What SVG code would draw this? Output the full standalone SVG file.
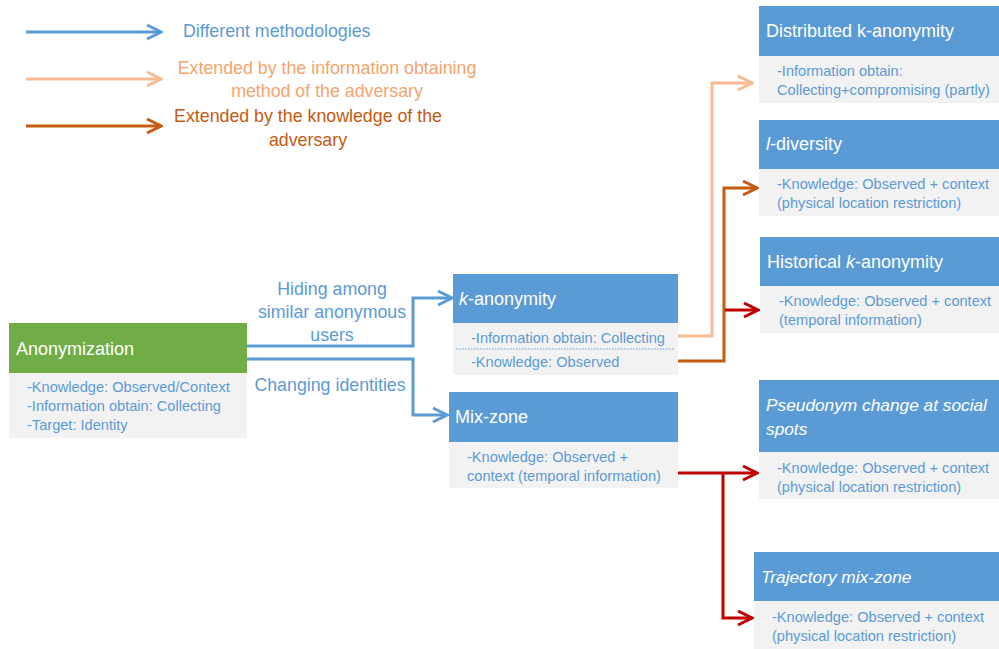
<svg xmlns="http://www.w3.org/2000/svg" width="999" height="649" viewBox="0 0 999 649">
  <defs>
    <style>
      text { font-family: "Liberation Sans", Arial, sans-serif; }
      .hdr { fill: #5B9BD5; }
      .hdr-green { fill: #70AD47; }
      .body { fill: #F2F2F2; }
      .title { fill: #FFFFFF; font-size: 18px; }
      .title-it { fill: #FFFFFF; font-size: 17.3px; font-style: italic; }
      .detail { fill: #5B9BD5; font-size: 14.6px; }
      .lbl { fill: #5B9BD5; font-size: 17.8px; }
      .conn { fill: none; stroke-width: 3; stroke-linejoin: miter; }
      .blue { stroke: #5B9BD5; }
      .peach { stroke: #F9B992; }
      .rust { stroke: #C55A11; }
      .red { stroke: #C00000; }
    </style>
    <marker id="ah-blue" viewBox="0 0 18 18" refX="16" refY="9" markerWidth="18" markerHeight="18" markerUnits="userSpaceOnUse" orient="auto">
      <polyline points="2,2 16,9 2,16" fill="none" stroke="#5B9BD5" stroke-width="3"/>
    </marker>
    <marker id="ah-peach" viewBox="0 0 18 18" refX="16" refY="9" markerWidth="18" markerHeight="18" markerUnits="userSpaceOnUse" orient="auto">
      <polyline points="2,2 16,9 2,16" fill="none" stroke="#F9B992" stroke-width="3"/>
    </marker>
    <marker id="ah-rust" viewBox="0 0 18 18" refX="16" refY="9" markerWidth="18" markerHeight="18" markerUnits="userSpaceOnUse" orient="auto">
      <polyline points="2,2 16,9 2,16" fill="none" stroke="#C55A11" stroke-width="3"/>
    </marker>
    <marker id="ah-red" viewBox="0 0 18 18" refX="16" refY="9" markerWidth="18" markerHeight="18" markerUnits="userSpaceOnUse" orient="auto">
      <polyline points="2,2 16,9 2,16" fill="none" stroke="#C00000" stroke-width="3"/>
    </marker>
  </defs>

  <rect width="999" height="649" fill="#FFFFFF"/>

  <!-- Legend -->
  <g id="legend">
    <line class="conn blue" x1="26" y1="32" x2="161" y2="32" marker-end="url(#ah-blue)"/>
    <text class="lbl" x="183" y="37">Different methodologies</text>
    <line class="conn peach" x1="26" y1="79" x2="161" y2="79" marker-end="url(#ah-peach)"/>
    <text class="lbl" x="327" y="74" text-anchor="middle" style="fill:#F4A46C">Extended by the information obtaining</text>
    <text class="lbl" x="327" y="97" text-anchor="middle" style="fill:#F4A46C">method of the adversary</text>
    <line class="conn rust" x1="26" y1="126" x2="161" y2="126" marker-end="url(#ah-rust)"/>
    <text class="lbl" x="308" y="122" text-anchor="middle" style="fill:#C55A11">Extended by the knowledge of the</text>
    <text class="lbl" x="308" y="146" text-anchor="middle" style="fill:#C55A11">adversary</text>
  </g>

  <!-- Connectors -->
  <g id="connectors">
    <polyline class="conn blue" points="247,346 413,346 413,298 452,298" marker-end="url(#ah-blue)"/>
    <polyline class="conn blue" points="247,359 413,359 413,415 447,415" marker-end="url(#ah-blue)"/>
    <polyline class="conn peach" points="678,336 712,336 712,83 752,83" marker-end="url(#ah-peach)"/>
    <polyline class="conn rust" points="678,361 724,361 724,188 757,188" marker-end="url(#ah-rust)"/>
    <line class="conn red" x1="725" y1="310" x2="758" y2="310" marker-end="url(#ah-red)"/>
    <polyline class="conn red" points="678,473 757,473" marker-end="url(#ah-red)"/>
    <polyline class="conn red" points="723,473 723,618 752,618" marker-end="url(#ah-red)"/>
    <text class="lbl" x="332" y="295" text-anchor="middle">Hiding among</text>
    <text class="lbl" x="332" y="318" text-anchor="middle">similar anonymous</text>
    <text class="lbl" x="332" y="341" text-anchor="middle">users</text>
    <text class="lbl" x="330" y="391" text-anchor="middle">Changing identities</text>
  </g>

  <!-- Anonymization -->
  <g id="anonymization">
    <rect class="hdr-green" x="9" y="323" width="238" height="50"/>
    <rect class="body" x="9" y="373" width="238" height="65"/>
    <text class="title" x="16" y="355">Anonymization</text>
    <text class="detail" x="27" y="392">-Knowledge: Observed/Context</text>
    <text class="detail" x="27" y="411">-Information obtain: Collecting</text>
    <text class="detail" x="27" y="430">-Target: Identity</text>
  </g>

  <!-- k-anonymity -->
  <g id="k-anonymity">
    <rect class="hdr" x="453" y="274" width="225" height="49"/>
    <rect class="body" x="453" y="323" width="225" height="52"/>
    <text class="title" x="459" y="305"><tspan font-style="italic">k</tspan>-anonymity</text>
    <text class="detail" x="471" y="343">-Information obtain: Collecting</text>
    <line x1="456" y1="349" x2="674" y2="349" stroke="#5B9BD5" stroke-width="1" stroke-dasharray="1.5,1.5"/>
    <text class="detail" x="471" y="367">-Knowledge: Observed</text>
  </g>

  <!-- Mix-zone -->
  <g id="mix-zone">
    <rect class="hdr" x="449" y="392" width="229" height="50"/>
    <rect class="body" x="449" y="442" width="229" height="46"/>
    <text class="title" x="455" y="423">Mix-zone</text>
    <text class="detail" x="467" y="462">-Knowledge: Observed +</text>
    <text class="detail" x="467" y="481">context (temporal information)</text>
  </g>

  <!-- Distributed k-anonymity -->
  <g id="distributed-k-anonymity">
    <rect class="hdr" x="759" y="6" width="240" height="50"/>
    <rect class="body" x="759" y="56" width="240" height="47"/>
    <text class="title" x="766" y="37">Distributed k-anonymity</text>
    <text class="detail" x="777" y="76">-Information obtain:</text>
    <text class="detail" x="777" y="95">Collecting+compromising (partly)</text>
  </g>

  <!-- l-diversity -->
  <g id="l-diversity">
    <rect class="hdr" x="759" y="120" width="240" height="49"/>
    <rect class="body" x="759" y="169" width="240" height="47"/>
    <text class="title" x="766" y="150"><tspan font-style="italic">l</tspan>-diversity</text>
    <text class="detail" x="777" y="189">-Knowledge: Observed + context</text>
    <text class="detail" x="777" y="208">(physical location restriction)</text>
  </g>

  <!-- Historical k-anonymity -->
  <g id="historical-k-anonymity">
    <rect class="hdr" x="760" y="237" width="239" height="49"/>
    <rect class="body" x="760" y="286" width="239" height="47"/>
    <text class="title" x="767" y="268">Historical <tspan font-style="italic">k</tspan>-anonymity</text>
    <text class="detail" x="779" y="306">-Knowledge: Observed + context</text>
    <text class="detail" x="779" y="325">(temporal information)</text>
  </g>

  <!-- Pseudonym change at social spots -->
  <g id="pseudonym-change">
    <rect class="hdr" x="759" y="380" width="240" height="72"/>
    <rect class="body" x="759" y="452" width="240" height="47"/>
    <text class="title-it" x="766" y="411">Pseudonym change at social</text>
    <text class="title-it" x="766" y="435">spots</text>
    <text class="detail" x="777" y="473">-Knowledge: Observed + context</text>
    <text class="detail" x="777" y="492">(physical location restriction)</text>
  </g>

  <!-- Trajectory mix-zone -->
  <g id="trajectory-mix-zone">
    <rect class="hdr" x="754" y="552" width="245" height="49"/>
    <rect class="body" x="754" y="601" width="245" height="48"/>
    <text class="title-it" x="761" y="583">Trajectory mix-zone</text>
    <text class="detail" x="772" y="622">-Knowledge: Observed + context</text>
    <text class="detail" x="772" y="641">(physical location restriction)</text>
  </g>
</svg>
